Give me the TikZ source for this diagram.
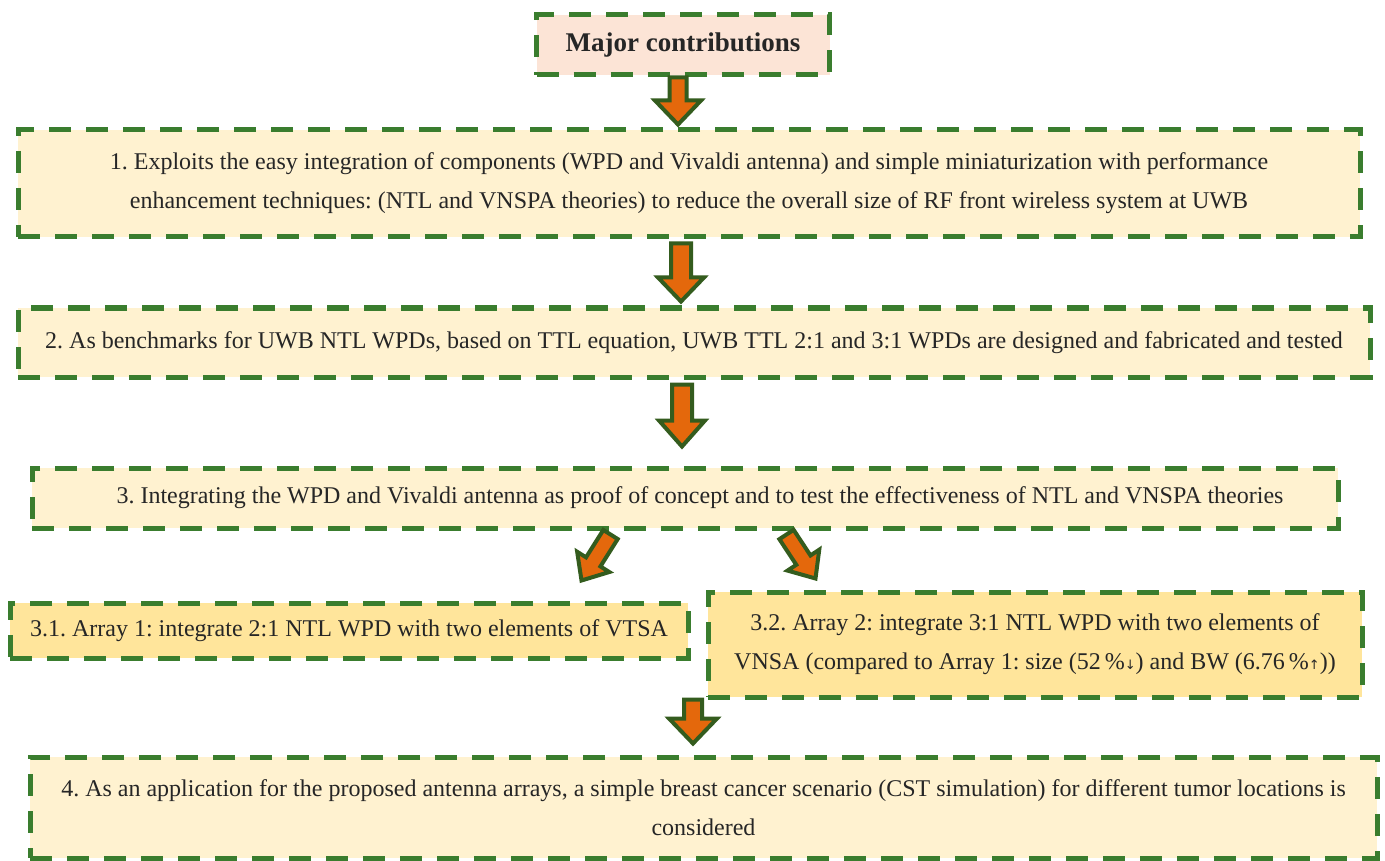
\documentclass[tikz,border=0pt]{standalone}
\usepackage{fontspec}
\setmainfont{Liberation Serif}
\newfontfamily\arrowfont{DejaVu Sans}
\usetikzlibrary{calc}
\definecolor{dashgreen}{RGB}{58,125,46}
\definecolor{arrowgreen}{RGB}{52,92,30}
\definecolor{arroworange}{RGB}{228,104,12}
\definecolor{pinkfill}{RGB}{252,228,214}
\definecolor{creamfill}{RGB}{255,242,208}
\definecolor{yellowfill}{RGB}{255,229,155}
\definecolor{textcol}{RGB}{38,38,38}
\tikzset{
  box/.style={draw=dashgreen, line width=5pt, dash pattern=on 22pt off 15pt,
    fill=creamfill, text=textcol, align=center, inner sep=0pt,
    font=\fontsize{24}{39}\selectfont},
  subbox/.style={box, fill=yellowfill},
  topbox/.style={box, fill=pinkfill, font=\fontsize{27}{30}\selectfont\bfseries},
  bigarrow/.style={draw=arrowgreen, fill=arroworange, line width=4pt, line join=miter}
}
\newcommand\blockarrow[5]{%
  \path (#1) coordinate (ba-s) (#2) coordinate (ba-e);
  \path ($(ba-e)!#5!(ba-s)$) coordinate (ba-h);
  \draw[bigarrow] ($(ba-s)!#3!90:(ba-e)$) -- ($(ba-h)!#3!90:(ba-e)$)
    -- ($(ba-h)!#4!90:(ba-e)$) -- (ba-e) -- ($(ba-h)!#4!-90:(ba-e)$)
    -- ($(ba-h)!#3!-90:(ba-e)$) -- ($(ba-s)!#3!-90:(ba-e)$) -- cycle;
}
\newcommand\smallarr[1]{{\arrowfont\fontsize{13}{13}\selectfont #1}}
\begin{document}
\frenchspacing
\begin{tikzpicture}[x=1pt,y=-1pt]
\useasboundingbox[fill=white] (0,0) rectangle (1385,861);
\node[topbox, minimum width=293pt, minimum height=60pt] (major) at (683,45) {Major contributions};
\node[box, minimum width=1342pt, minimum height=107pt] (b1) at (689,183.5)
  {1. Exploits the easy integration of components (WPD and Vivaldi antenna) and simple miniaturization with performance\\
   enhancement techniques: (NTL and VNSPA theories) to reduce the overall size of RF front wireless system at UWB};
\node[box, minimum width=1352pt, minimum height=69pt] (b2) at (694,342.5)
  {2. As benchmarks for UWB NTL WPDs, based on TTL equation, UWB TTL 2:1 and 3:1 WPDs are designed and fabricated and tested};
\node[box, minimum width=1306pt, minimum height=60pt] (b3) at (685,498)
  {\hspace*{30pt}3. Integrating the WPD and Vivaldi antenna as proof of concept and to test the effectiveness of NTL and VNSPA theories};
\node[subbox, minimum width=678pt, minimum height=55pt] (b31) at (349,630.5)
  {3.1. Array 1: integrate 2:1 NTL WPD with two elements of VTSA};
\node[subbox, minimum width=654pt, minimum height=105pt] (b32) at (1035,644.5)
  {3.2. Array 2: integrate 3:1 NTL WPD with two elements of\\
   VNSA (compared to Array 1: size (52\,\%\smallarr{↓}) and BW (6.76\,\%\smallarr{↑}))};
\node[box, minimum width=1347pt, minimum height=101pt] (b4) at (703.5,807.5)
  {4. As an application for the proposed antenna arrays, a simple breast cancer scenario (CST simulation) for different tumor locations is\\
   considered};
\coordinate (ax1) at (678,0);
\coordinate (ax2) at (681,0);
\coordinate (ax3) at (682,0);
\coordinate (ax4) at (693,0);
\blockarrow{major.south -| ax1}{$(b1.north -| ax1)+(0,-3)$}{8.5pt}{23pt}{24pt}
\blockarrow{$(b1.south -| ax2)+(0,4)$}{$(b2.north -| ax2)+(0,-4)$}{10pt}{23pt}{24pt}
\blockarrow{$(b2.south -| ax3)+(0,5)$}{$(b3.north -| ax3)+(0,-19)$}{10pt}{23pt}{26pt}
\blockarrow{b32.south -| ax4}{$(b4.north -| ax4)+(0,-11)$}{9pt}{24pt}{25pt}
\blockarrow{$(b3.south west)+(581,4)$}{$(b31.north east)+(-109,-20)$}{8.5pt}{19pt}{22pt}
\blockarrow{$(b3.south west)+(757,4)$}{$(b32.north west)+(110,-11)$}{8.5pt}{19pt}{22pt}
\end{tikzpicture}
\end{document}
